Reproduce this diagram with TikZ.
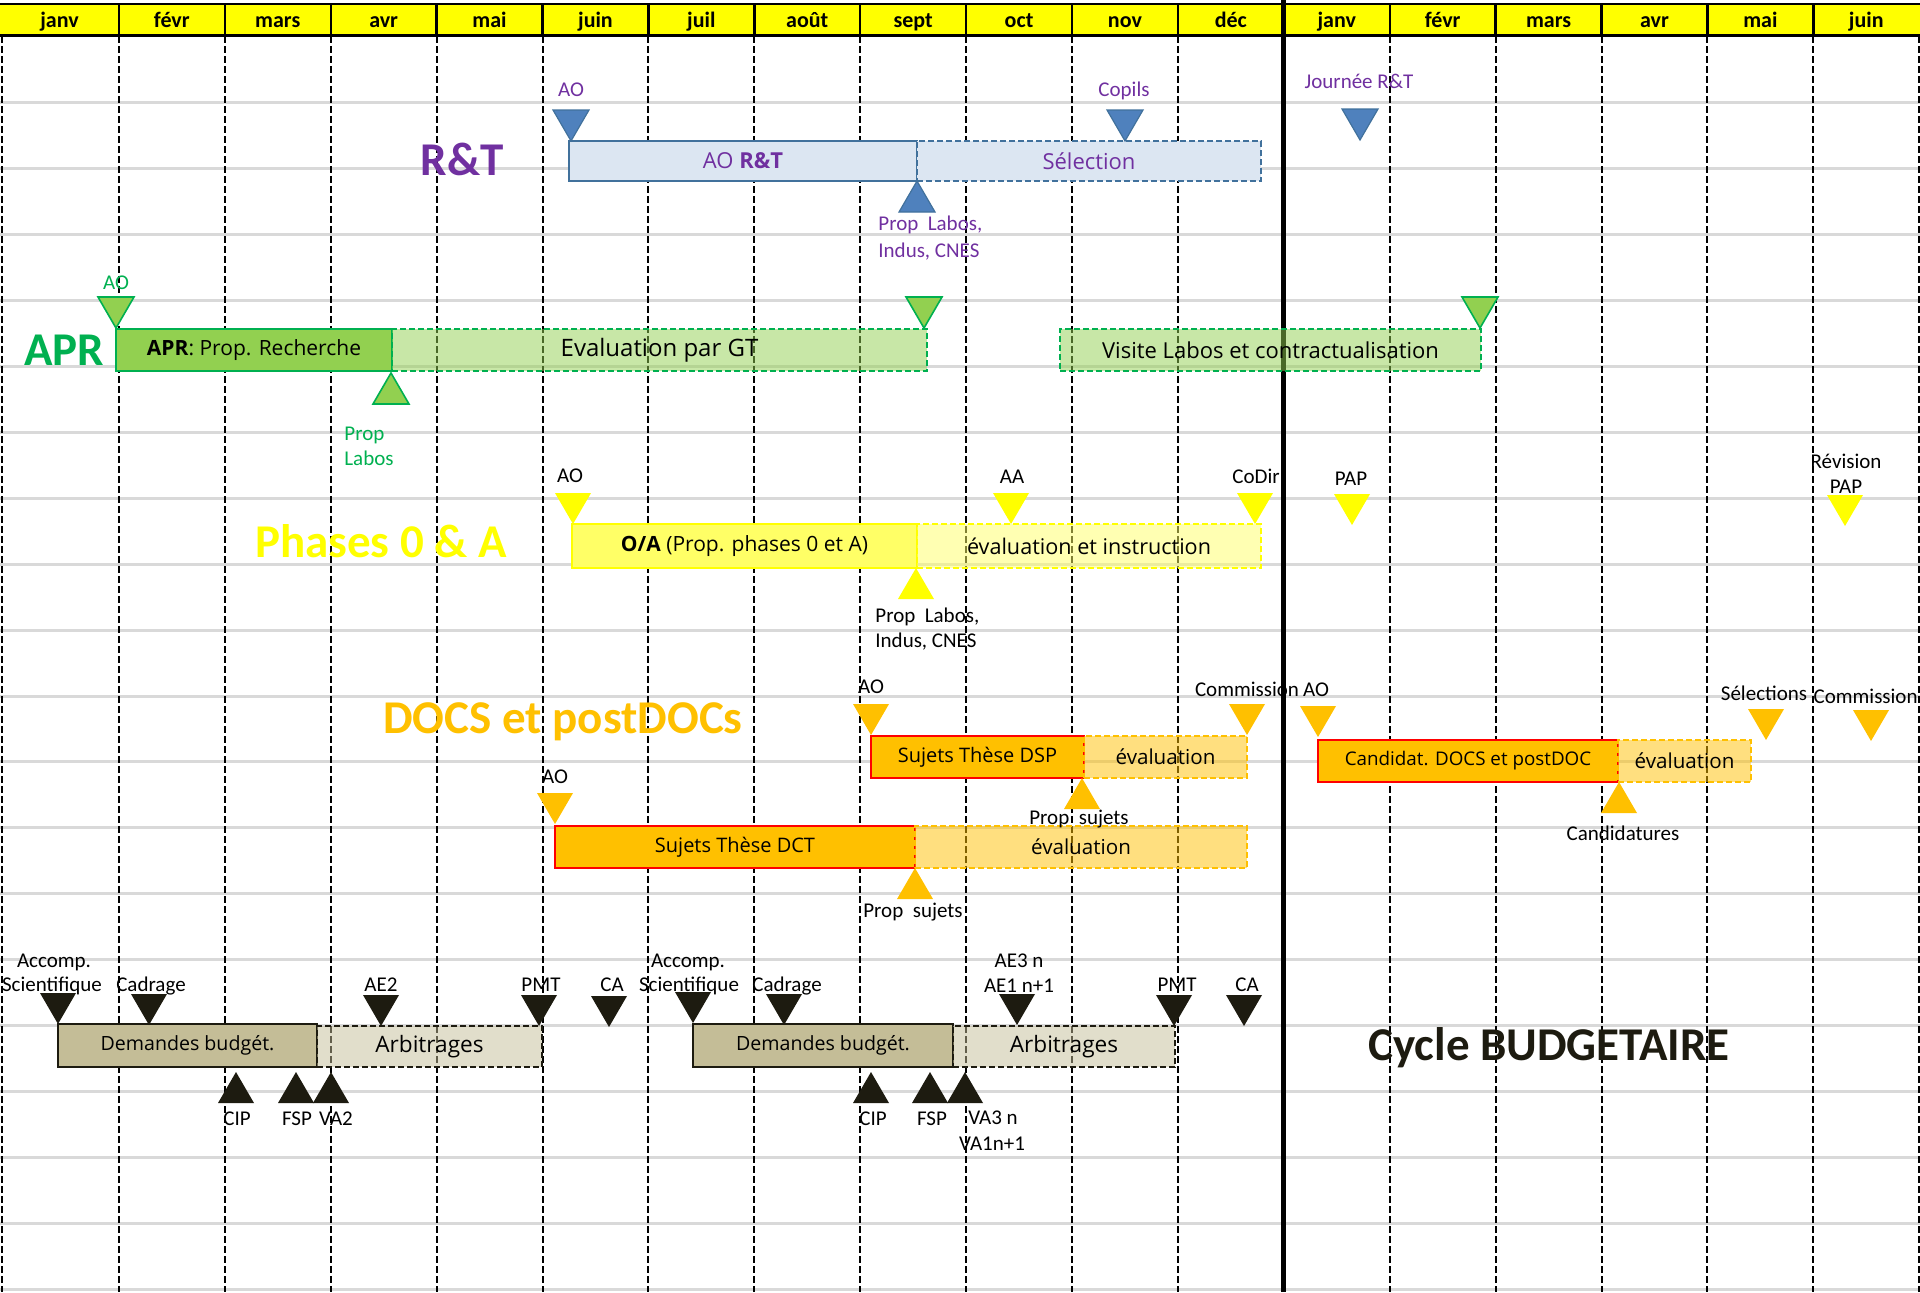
\documentclass[tikz,border=0pt]{standalone}
\usepackage{fontspec}
\setmainfont{Carlito}
\newfontfamily\barfont{Open Sans}
\usepackage{tikz}
\usetikzlibrary{fit}

\definecolor{rtpurple}{HTML}{7030A0}
\definecolor{rtfill}{HTML}{DCE6F2}
\definecolor{rtline}{HTML}{41719C}
\definecolor{rtblue}{HTML}{4F81BD}
\definecolor{aprgreen}{HTML}{00B050}
\definecolor{aprfill}{HTML}{92D050}
\definecolor{phyellow}{HTML}{FFFF00}
\definecolor{phfill}{HTML}{FFFF66}
\definecolor{docorange}{HTML}{FFC000}
\definecolor{docred}{HTML}{FF0000}
\definecolor{budfill}{HTML}{C4BD97}
\definecolor{buddark}{HTML}{1D1B10}
\definecolor{gridgray}{HTML}{D9D9D9}

\tikzset{
  tridown/.pic={\path[pic actions] (-18,-31) -- (18,-31) -- (0,0) -- cycle;},
  triup/.pic={\path[pic actions] (-18,31) -- (18,31) -- (0,0) -- cycle;},
  monthlab/.style={anchor=base, inner sep=0pt, font=\fontsize{11pt}{13pt}\selectfont\bfseries},
  lab/.style={anchor=base, inner sep=0pt, font=\fontsize{10.5pt}{12pt}\selectfont},
  bigtitle/.style={anchor=base, inner sep=0pt, font=\fontsize{23.5pt}{28pt}\selectfont\bfseries},
  bar/.style={inner sep=0pt, line width=1pt},
  pending/.style={bar, dash pattern=on 3pt off 1.5pt, fill opacity=.5},
  bartext/.style={inner sep=0pt, font=\barfont\fontsize{#1}{#1}\selectfont},
  bartext/.default=10.5pt,
  gridline/.style={gridgray, line width=1.5pt},
  monthsep/.style={line width=1pt, dash pattern=on 3.5pt off 1.5pt},
  rtmark/.style={fill=rtblue, draw=rtline, line width=.6pt},
  aprmark/.style={fill=aprfill, draw=aprgreen, line width=.8pt},
  phmark/.style={fill=phyellow},
  docmark/.style={fill=docorange},
  budmark/.style={fill=buddark},
}

\begin{document}
\begin{tikzpicture}[x=0.5pt,y=-0.5pt]
  \useasboundingbox (0,0) rectangle (1920,1292);

  % grid
  \foreach \j in {0,...,18}
    \draw[gridline] (0,{102.9+65.9*\j}) -- (1920,{102.9+65.9*\j});
  \draw[monthsep] (1.5,36) -- (1.5,1292);
  \foreach \k in {1,...,11,13,14,15,16,17,18}
    \draw[monthsep] ({13+105.9*\k},36) -- ({13+105.9*\k},1292);
  \draw[line width=2.5pt] (1283.8,0) -- (1283.8,1292);

  % R&T
  \node (rtT) [bigtitle, text=rtpurple] at (462,175) {R\&T};
  \node (rtA) [bar, draw=rtline, fill=rtfill, fit={(569,141) (917,181)}] {};
  \node (rtS) [bar, draw=rtline, fill=rtfill, dash pattern=on 3pt off 1.5pt, fit={(917,141) (1261,181)}] {};
  \node (rtAt) [bartext=11pt, text=rtpurple] at (rtA) {AO \textbf{R\&T}};
  \node (rtSt) [bartext=11pt, text=rtpurple] at (rtS) {Sélection};
  \foreach \x/\y in {571/141, 1125/141, 1360/140}
    \pic[rtmark] at (\x,\y) {tridown};
  \pic[rtmark] at (917,181) {triup};
  \node (rtAO) [lab, text=rtpurple] at (571,96) {AO};
  \node (rtCo) [lab, text=rtpurple] at (1124,96) {Copils};
  \node (rtJo) [lab, text=rtpurple] at (1359,88) {Journée R\&T};
  \node (rtP1) [lab, anchor=base west, text=rtpurple] at (878,230) {Prop~ Labos,};
  \node (rtP2) [lab, anchor=base west, text=rtpurple] at (878,257) {Indus, CNES};

  % APR
  \node (aprT) [bigtitle, text=aprgreen] at (64,365) {APR};
  \node (aprA) [bar, draw=aprgreen, fill=aprfill, fit={(116,329) (392,371)}] {};
  \node (aprE) [pending, draw=aprgreen, fill=aprfill, fit={(392,329) (927,371)}] {};
  \node (aprV) [pending, draw=aprgreen, fill=aprfill, fit={(1060,329) (1481,371)}] {};
  \node (aprAt) [bartext] at (aprA) {\textbf{APR}: Prop. Recherche};
  \node (aprEt) [bartext=12pt] at (aprE) {Evaluation par GT};
  \node (aprVt) [bartext=11pt] at (aprV) {Visite Labos et contractualisation};
  \foreach \x in {116, 924, 1480}
    \pic[aprmark] at (\x,328) {tridown};
  \pic[aprmark] at (391,373) {triup};
  \node (aprAO) [lab, text=aprgreen] at (116,289) {AO};
  \node (aprP1) [lab, anchor=base west, text=aprgreen] at (344,440) {Prop};
  \node (aprP2) [lab, anchor=base west, text=aprgreen] at (344,465) {Labos};

  % Phases 0 & A
  \node (phT) [bigtitle, text=phyellow] at (381,557) {Phases 0 \& A};
  \node (phO) [bar, draw=phyellow, fill=phfill, fit={(572,524) (917,568)}] {};
  \node (phE) [pending, draw=phyellow, fill=phfill, fit={(917,524) (1261,568)}] {};
  \node (phOt) [bartext] at (phO) {\textbf{O/A} (Prop. phases 0 et A)};
  \node (phEt) [bartext=10.8pt] at (phE) {évaluation et instruction};
  \foreach \x/\y in {573/524, 1011/524, 1255/524, 1352/525, 1845/526}
    \pic[phmark] at (\x,\y) {tridown};
  \pic[phmark] at (916,568) {triup};
  \node (phAO) [lab] at (570,482) {AO};
  \node (phAA) [lab] at (1012,483) {AA};
  \node (phCD) [lab] at (1256,483) {CoDir};
  \node (phPAP) [lab] at (1351,485) {PAP};
  \node (phR1) [lab] at (1846,468) {Révision};
  \node (phR2) [lab] at (1846,493) {PAP};
  \node (phP1) [lab, anchor=base west] at (875,622) {Prop~ Labos,};
  \node (phP2) [lab, anchor=base west] at (875,647) {Indus, CNES};

  % DOCS et postDOCs
  \node (docT) [bigtitle, text=docorange] at (563,733) {DOCS et postDOCs};
  \node (docS) [bar, draw=docred, fill=docorange, fit={(871,736) (1084,778)}] {};
  \node (docSE) [pending, draw=docorange, fill=docorange, fit={(1084,736) (1247,778)}] {};
  \node (docD) [bar, draw=docred, fill=docorange, fit={(555,826) (915,868)}] {};
  \node (docDE) [pending, draw=docorange, fill=docorange, fit={(915,826) (1247,868)}] {};
  \node (docC) [bar, draw=docred, fill=docorange, fit={(1318,740) (1618,782)}] {};
  \node (docCE) [pending, draw=docorange, fill=docorange, fit={(1618,740) (1751,782)}] {};
  \node (docSt) [bartext=10pt] at (docS) {Sujets Thèse DSP};
  \node (docSEt) [bartext=10.3pt] at (docSE) {évaluation};
  \node (docDt) [bartext=10pt] at (docD) {Sujets Thèse DCT};
  \node (docDEt) [bartext=10.3pt] at (docDE) {évaluation};
  \node (docCt) [bartext=9.4pt] at (docC) {Candidat. DOCS et postDOC};
  \node (docCEt) [bartext=10.3pt] at (docCE) {évaluation};
  \foreach \x/\y in {871/735, 1247/735, 555/824, 1318/737, 1766/740, 1871/741}
    \pic[docmark] at (\x,\y) {tridown};
  \foreach \x/\y in {1082/778, 915/868, 1619/782}
    \pic[docmark] at (\x,\y) {triup};
  \node (docAO1) [lab] at (871,693) {AO};
  \node (docCo1) [lab] at (1247,696) {Commission};
  \node (docAO2) [lab] at (1316,696) {AO};
  \node (docSel) [lab] at (1764,700) {Sélections};
  \node (docCo2) [lab, anchor=base east] at (1918,703) {Commission};
  \node (docPS1) [lab] at (1079,824) {Prop~ sujets};
  \node (docAO3) [lab] at (555,783) {AO};
  \node (docPS2) [lab] at (913,917) {Prop~ sujets};
  \node (docCand) [lab] at (1623,840) {Candidatures};

  % Cycle budgetaire
  \node (budT) [bigtitle, text=buddark] at (1549,1060) {Cycle BUDGETAIRE};
  \node (budD1) [bar, draw=buddark, fill=budfill, fit={(58,1024) (317,1067)}] {};
  \node (budA1) [pending, draw=buddark, fill=budfill, fit={(317,1026) (542,1067)}] {};
  \node (budD2) [bar, draw=buddark, fill=budfill, fit={(693,1024) (953,1067)}] {};
  \node (budA2) [pending, draw=buddark, fill=budfill, fit={(953,1026) (1175,1067)}] {};
  \node (budD1t) [bartext=9.8pt] at (budD1) {Demandes budgét.};
  \node (budA1t) [bartext=11.3pt] at (budA1) {Arbitrages};
  \node (budD2t) [bartext=9.8pt] at (budD2) {Demandes budgét.};
  \node (budA2t) [bartext=11.3pt] at (budA2) {Arbitrages};
  \foreach \x/\y in {58/1024, 149/1025, 381/1026, 539/1026, 609/1027, 693/1023, 784/1025, 1017/1025, 1174/1026, 1244/1026}
    \pic[budmark] at (\x,\y) {tridown};
  \foreach \x in {236, 296, 331, 871, 930, 965}
    \pic[budmark] at (\x,1072) {triup};
  \node (budAc1) [lab] at (54,967) {Accomp.};
  \node (budSc1) [lab] at (52,991) {Scientifique};
  \node (budCa1) [lab] at (151,991) {Cadrage};
  \node (budAE2) [lab] at (381,991) {AE2};
  \node (budPM1) [lab] at (541,991) {PMT};
  \node (budCA1) [lab] at (612,991) {CA};
  \node (budCI1) [lab] at (237,1125) {CIP};
  \node (budFS1) [lab] at (297,1125) {FSP};
  \node (budVA2) [lab] at (336,1125) {VA2};
  \node (budAc2) [lab] at (688,967) {Accomp.};
  \node (budSc2) [lab] at (689,991) {Scientifique};
  \node (budCa2) [lab] at (787,991) {Cadrage};
  \node (budAE3) [lab] at (1019,967) {AE3 n};
  \node (budAE1) [lab] at (1019,992) {AE1 n+1};
  \node (budPM2) [lab] at (1177,991) {PMT};
  \node (budCA2) [lab] at (1247,991) {CA};
  \node (budCI2) [lab] at (873,1125) {CIP};
  \node (budFS2) [lab] at (932,1125) {FSP};
  \node (budVA3) [lab] at (993,1124) {VA3 n};
  \node (budVA1) [lab] at (992,1150) {VA1n+1};

  % month header
  \fill[phyellow] (0,4) rectangle (1920,35);
  \draw[line width=1.3pt] (0,4) -- (1920,4) (0,35.5) -- (1920,35.5);
  \foreach \k in {1,...,17}
    \draw[line width=1.2pt] ({13+105.9*\k},4) -- ({13+105.9*\k},35.5);
  \draw[line width=2.5pt] (1283.8,0) -- (1283.8,36);
  \foreach \m [count=\i from 0] in {janv,févr,mars,avr,mai,juin,juil,août,sept,oct,nov,déc,janv,févr,mars,avr,mai,juin} {
    \pgfmathsetmacro\cx{ifthenelse(\i==0,59.5,13+105.9*(\i+0.5))}
    \node (m\i) [monthlab] at (\cx,27.5) {\m};
  }
\end{tikzpicture}
\end{document}
